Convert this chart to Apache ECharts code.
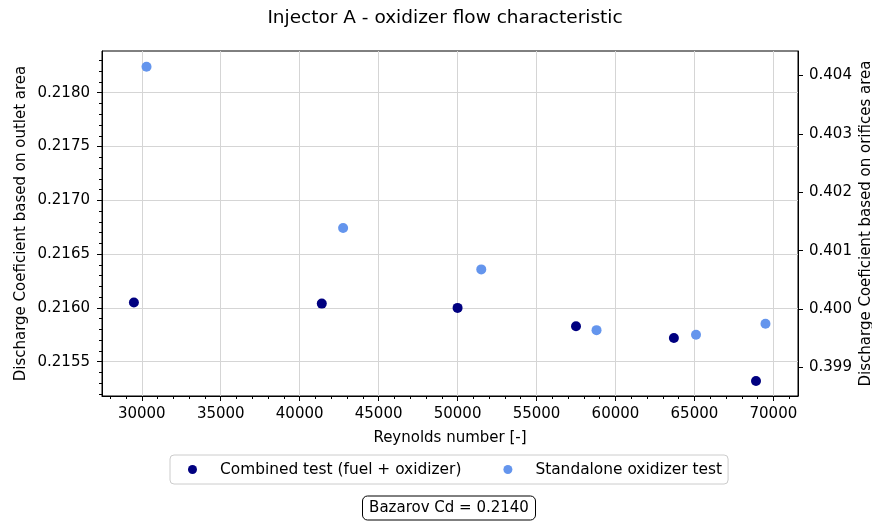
<!DOCTYPE html>
<html>
<head>
<meta charset="utf-8">
<script src="https://cdn.jsdelivr.net/npm/echarts@6/dist/echarts.min.js"></script>
<style>
  html, body { margin: 0; padding: 0; background: #fff; }
  #chart { width: 872px; height: 522px; }
</style>
</head>
<body>
<div id="chart"></div>
<script>
// Test points: Reynolds number and discharge coefficient
const combinedRe = [29500, 41400, 50000, 57500, 63700, 68900];
const combinedCd = [0.21605, 0.21604, 0.21600, 0.21583, 0.21572, 0.21532];
const standaloneRe = [30300, 42750, 51500, 58800, 65100, 69500];
const standaloneCd = [0.40415, 0.40139, 0.40068, 0.39964, 0.39956, 0.39975];

// Axis tick values
const reTicks = [30000, 35000, 40000, 45000, 50000, 55000, 60000, 65000, 70000];
const outletTicks = [0.2155, 0.2160, 0.2165, 0.2170, 0.2175, 0.2180];
const orificeTicks = [0.399, 0.400, 0.401, 0.402, 0.403, 0.404];

const seriesNames = ['Combined test (fuel + oxidizer)', 'Standalone oxidizer test'];
const bazarovCd = 0.2140;

const FONT = 'DejaVu Sans';
const INK = '#000';
const tickLine = { color: INK, width: 1 };

const toPairs = (xs, ys) => xs.map((x, i) => [x, ys[i]]);

const chart = echarts.init(document.getElementById('chart'), null, { renderer: 'canvas' });

chart.setOption({
  animation: false,
  backgroundColor: '#fff',
  title: [
    {
      text: 'Injector A - oxidizer flow characteristic',
      left: 445, top: 9, padding: 0, textAlign: 'center',
      textStyle: { fontFamily: FONT, fontSize: 18.5, fontWeight: 'normal', color: INK }
    },
    {
      text: 'Bazarov Cd = ' + bazarovCd.toFixed(4),
      left: 442, top: 496, padding: [4.5, 7, 4.5, 7], textAlign: 'center',
      borderColor: INK, borderWidth: 1, borderRadius: 5,
      textStyle: { fontFamily: FONT, fontSize: 15, fontWeight: 'normal', color: INK }
    }
  ],
  legend: {
    data: seriesNames,
    left: 170, top: 455,
    padding: [7, 6, 7, 18],
    icon: 'circle', itemWidth: 9, itemHeight: 9, itemGap: 42,
    borderColor: '#cccccc', borderWidth: 1, borderRadius: 4,
    backgroundColor: 'rgba(255,255,255,0.8)',
    textStyle: { fontFamily: FONT, fontSize: 15.4, color: INK, padding: [0, 0, 0, 18] }
  },
  grid: {
    left: 102, right: 74, top: 51, bottom: 126,
    outerBoundsMode: 'none', containLabel: false,
    show: true, borderColor: INK, borderWidth: 1, backgroundColor: 'transparent'
  },
  xAxis: {
    type: 'value',
    min: 27480, max: 71560, minInterval: 5000, maxInterval: 5000,
    name: 'Reynolds number [-]', nameLocation: 'middle', nameGap: 35, nameMoveOverlap: false,
    nameTextStyle: { fontFamily: FONT, fontSize: 15, color: INK },
    axisLine: { show: true, onZero: false, lineStyle: { color: INK, width: 1 } },
    axisTick: { show: true, length: 5, customValues: reTicks, lineStyle: tickLine },
    minorTick: { show: true, splitNumber: 5, length: 3, lineStyle: tickLine },
    axisLabel: {
      customValues: reTicks, margin: 11,
      fontFamily: FONT, fontSize: 15, color: INK,
      formatter: v => String(Math.round(v))
    },
    splitLine: { show: true, lineStyle: { color: '#d5d5d5', width: 1 } }
  },
  yAxis: [
    {
      type: 'value', position: 'left',
      min: 0.215181, max: 0.218388, minInterval: 0.0005, maxInterval: 0.0005,
      name: 'Discharge Coeficient based on outlet area', nameLocation: 'middle',
      nameGap: 73, nameMoveOverlap: false,
      nameTextStyle: { fontFamily: FONT, fontSize: 15, color: INK },
      axisLine: { show: true, lineStyle: { color: INK, width: 1 } },
      axisTick: { show: true, length: 5, customValues: outletTicks, lineStyle: tickLine },
      minorTick: { show: true, splitNumber: 5, length: 3, lineStyle: tickLine },
      axisLabel: {
        customValues: outletTicks, margin: 12,
        fontFamily: FONT, fontSize: 15, color: INK,
        formatter: v => v.toFixed(4)
      },
      splitLine: { show: true, lineStyle: { color: '#d5d5d5', width: 1 } }
    },
    {
      type: 'value', position: 'right',
      min: 0.398512, max: 0.40442, minInterval: 0.001, maxInterval: 0.001,
      name: 'Discharge Coeficient based on orifices area', nameLocation: 'middle',
      nameGap: 61, nameMoveOverlap: false,
      nameTextStyle: { fontFamily: FONT, fontSize: 15, color: INK },
      axisLine: { show: true, lineStyle: { color: INK, width: 1 } },
      axisTick: { show: true, length: 5, customValues: orificeTicks, lineStyle: tickLine },
      minorTick: { show: false },
      axisLabel: {
        customValues: orificeTicks, margin: 11,
        fontFamily: FONT, fontSize: 15, color: INK,
        formatter: v => v.toFixed(3)
      },
      splitLine: { show: false }
    }
  ],
  series: [
    {
      name: seriesNames[0], type: 'scatter',
      xAxisIndex: 0, yAxisIndex: 0,
      symbol: 'circle', symbolSize: 10,
      itemStyle: { color: '#000080', opacity: 1 },
      data: toPairs(combinedRe, combinedCd)
    },
    {
      name: seriesNames[1], type: 'scatter',
      xAxisIndex: 0, yAxisIndex: 1,
      symbol: 'circle', symbolSize: 10,
      itemStyle: { color: '#6495ED', opacity: 1 },
      data: toPairs(standaloneRe, standaloneCd)
    }
  ]
});
</script>
</body>
</html>
